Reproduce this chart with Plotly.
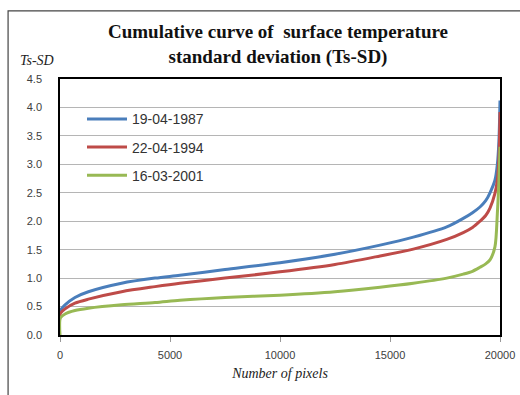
import plotly.graph_objects as go

# Data
pixels = [0, 20, 230, 680, 1290, 2800, 4320, 5450, 7500, 10000, 12500,
          14550, 16060, 17580, 18330, 18750, 19090, 19350, 19545, 19770, 19880, 19950, 20000]
ts_1987 = [0.40, 0.43, 0.53, 0.66, 0.76, 0.91, 1.00, 1.05, 1.15, 1.27, 1.42,
           1.58, 1.72, 1.90, 2.05, 2.15, 2.25, 2.36, 2.50, 2.72, 3.00, 3.40, 4.12]
ts_1994 = [0.32, 0.38, 0.46, 0.56, 0.63, 0.76, 0.85, 0.91, 1.00, 1.11, 1.24,
           1.39, 1.51, 1.68, 1.80, 1.89, 2.00, 2.10, 2.23, 2.49, 2.72, 3.10, 3.92]
ts_2001 = [0.00, 0.30, 0.37, 0.43, 0.47, 0.53, 0.57, 0.61, 0.66, 0.70, 0.76,
           0.84, 0.91, 1.00, 1.07, 1.12, 1.19, 1.25, 1.32, 1.55, 2.14, 2.70, 3.31]
series_names = ["19-04-1987", "22-04-1994", "16-03-2001"]
x_ticks = [0, 5000, 10000, 15000, 20000]
y_ticks = [0.0, 0.5, 1.0, 1.5, 2.0, 2.5, 3.0, 3.5, 4.0, 4.5]

colors = ["#4A7EBB", "#BE4B48", "#98B954"]

fig = go.Figure()
for name, ys, c in zip(series_names, [ts_1987, ts_1994, ts_2001], colors):
    fig.add_trace(go.Scatter(
        x=pixels, y=ys, name=name, mode="lines", legendgroup=name,
        line=dict(color=c, width=3, shape="spline", smoothing=0.8),
    ))

serif = "Liberation Serif"
sans = "Liberation Sans"

fig.update_layout(
    width=520, height=395,
    margin=dict(l=60, r=20, t=79, b=60),
    paper_bgcolor="white", plot_bgcolor="white",
    showlegend=True,
    legend=dict(
        x=0.05, y=0.905, xanchor="left", yanchor="top",
        font=dict(family=sans, size=14, color="#333333"),
        tracegroupgap=7, bgcolor="rgba(0,0,0,0)",
        itemwidth=40,
    ),
    xaxis=dict(
        range=[0, 20000], tickvals=x_ticks,
        ticktext=[str(v) for v in x_ticks],
        showgrid=False, zeroline=False,
        showline=True, linecolor="black", linewidth=1.5, mirror=True,
        ticks="outside", ticklen=5, tickcolor="#999999",
        ticklabelstandoff=4,
        tickfont=dict(family=sans, size=11, color="#404040"),
        title=dict(text="<i>Number of pixels</i>",
                   font=dict(family=serif, size=14, color="#222222"),
                   standoff=8),
        automargin=False,
    ),
    yaxis=dict(
        range=[0, 4.5], tickvals=y_ticks,
        ticktext=[f"{v:.1f}" for v in y_ticks],
        showgrid=True, gridcolor="#b5b5b5", gridwidth=1, zeroline=False,
        showline=True, linecolor="black", linewidth=1.5, mirror=True,
        ticks="", ticklabelstandoff=14,
        tickfont=dict(family=sans, size=11, color="#404040"),
        automargin=False,
    ),
    annotations=[
        dict(text="<b>Cumulative curve of  surface temperature<br>standard deviation (Ts-SD)</b>",
             xref="paper", yref="paper", x=0.495, y=1.133,
             xanchor="center", yanchor="middle", showarrow=False,
             font=dict(family=serif, size=19, color="#111111"),
             align="center"),
        dict(text="<i>Ts-SD</i>", xref="paper", yref="paper",
             x=-0.095, y=1.074, xanchor="left", yanchor="middle",
             showarrow=False,
             font=dict(family=serif, size=14, color="#222222")),
    ],
    shapes=[
        dict(type="path", xref="paper", yref="paper",
             path="M -0.118,-0.3 L -0.118,1.266 L 1.2,1.266",
             line=dict(color="#444444", width=1.2)),
    ],
)

fig.write_html(
    "out.html",
    config={"displayModeBar": False},
    post_script="document.body.style.margin='0';document.body.style.overflow='hidden';",
)
